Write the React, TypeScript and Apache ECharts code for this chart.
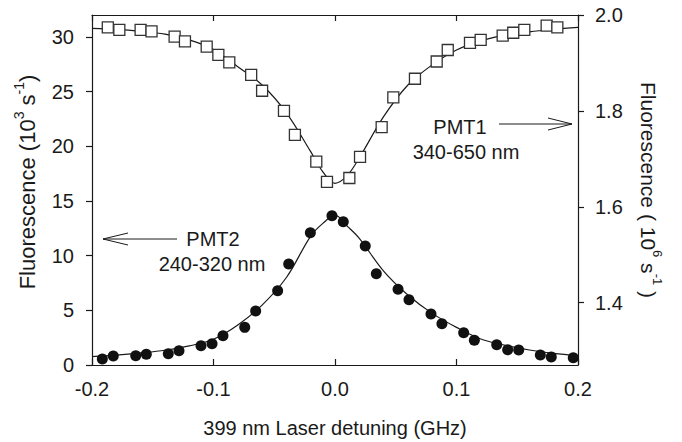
import React, { useEffect, useRef } from "react";
import * as echarts from "echarts";

// PMT1 (open squares, right axis, 10^6 s^-1)
const pmt1X = [-0.187, -0.1775, -0.16, -0.151, -0.132, -0.1235, -0.1056, -0.096, -0.087, -0.069, -0.06, -0.042, -0.033, -0.0154, -0.0066, 0.0118, 0.0206, 0.0384, 0.048, 0.0658, 0.0837, 0.0928, 0.1111, 0.1199, 0.138, 0.1467, 0.1558, 0.1742, 0.183];
const pmt1Y = [1.974, 1.969, 1.969, 1.966, 1.955, 1.945, 1.934, 1.917, 1.901, 1.875, 1.842, 1.8, 1.75, 1.694, 1.652, 1.66, 1.704, 1.766, 1.828, 1.867, 1.903, 1.927, 1.942, 1.948, 1.957, 1.963, 1.969, 1.978, 1.974];

// PMT2 (filled circles, left axis, 10^3 s^-1)
const pmt2X = [-0.1915, -0.1825, -0.164, -0.1553, -0.1372, -0.1284, -0.1103, -0.1012, -0.0922, -0.0743, -0.0653, -0.0472, -0.0381, -0.0203, -0.0025, 0.0068, 0.0249, 0.034, 0.0519, 0.0609, 0.079, 0.088, 0.1059, 0.1147, 0.1331, 0.1421, 0.1512, 0.169, 0.178, 0.1961];
const pmt2Y = [0.55, 0.82, 0.85, 0.98, 1.03, 1.31, 1.76, 1.95, 2.68, 3.44, 4.93, 6.79, 9.23, 12.09, 13.65, 13.1, 10.87, 8.34, 6.92, 5.97, 4.66, 3.77, 2.95, 2.26, 1.86, 1.4, 1.37, 0.91, 0.73, 0.67];

// Fit curves
const fitX = [-0.2, -0.18, -0.16, -0.14, -0.12, -0.1, -0.08, -0.06, -0.04, -0.02, -0.01, 0, 0.01, 0.02, 0.04, 0.06, 0.08, 0.1, 0.12, 0.14, 0.16, 0.18, 0.2];
const fit1Y = [1.972, 1.97, 1.966, 1.96, 1.948, 1.928, 1.892, 1.854, 1.796, 1.715, 1.673, 1.649, 1.665, 1.702, 1.788, 1.854, 1.896, 1.927, 1.946, 1.958, 1.965, 1.97, 1.974];
const fit2Y = [0.76, 0.9, 1.1, 1.35, 1.75, 2.35, 3.66, 5.48, 8.0, 11.79, 12.95, 13.7, 12.7, 11.58, 8.59, 6.4, 4.72, 3.44, 2.38, 1.8, 1.37, 1.07, 0.85];

const leftTicks = [0, 5, 10, 15, 20, 25, 30];
const rightTicks = [1.4, 1.6, 1.8, 2.0];

const FONT = "'Liberation Sans', Arial, Helvetica, sans-serif";
const INK = "#1a1a1a";

export default function App() {
  const ref = useRef<HTMLDivElement>(null);
  useEffect(() => {
    if (!ref.current) return;
    const chart = echarts.init(ref.current, null, { renderer: "svg" });
    const zip = (xs: number[], ys: number[]) => xs.map((x, i) => [x, ys[i]]);
    const axisLine = { show: true, onZero: false, lineStyle: { color: INK, width: 1.2 } };
    const xFmt = (v: number) => (Math.abs(v) < 1e-9 ? "0.0" : v.toFixed(1));
    const tickStyle = { color: INK, width: 1.2 };
    chart.setOption({
      animation: false,
      backgroundColor: "#fff",
      grid: { left: 92, right: 104, top: 15, bottom: 77, containLabel: false },
      xAxis: [
        {
          type: "value", position: "bottom", min: -0.2, max: 0.2, interval: 0.1,
          axisLine, splitLine: { show: false },
          axisTick: { show: true, inside: true, length: 6, lineStyle: tickStyle },
          axisLabel: { show: true, fontSize: 20, fontFamily: FONT, color: INK, margin: 14, formatter: xFmt },
        },
        {
          type: "value", position: "top", min: -0.2, max: 0.2, interval: 0.1,
          axisLine, splitLine: { show: false },
          axisTick: { show: true, inside: true, length: 6, lineStyle: tickStyle },
          axisLabel: { show: false },
        },
      ],
      yAxis: [
        {
          type: "value", position: "left", min: 0, max: 32,
          axisLine, splitLine: { show: false },
          axisTick: { show: true, inside: false, length: 6, customValues: leftTicks, lineStyle: tickStyle },
          axisLabel: { show: true, fontSize: 20, fontFamily: FONT, color: INK, margin: 18, customValues: leftTicks },
        },
        {
          type: "value", position: "right", min: 1.27, max: 2.0, alignTicks: false,
          axisLine, splitLine: { show: false },
          axisTick: { show: true, inside: false, length: 6, customValues: rightTicks, lineStyle: tickStyle },
          axisLabel: { show: true, fontSize: 20, fontFamily: FONT, color: INK, margin: 17, customValues: rightTicks, formatter: (v: number) => v.toFixed(1) },
        },
      ],
      series: [
        {
          type: "line", xAxisIndex: 0, yAxisIndex: 1, data: zip(fitX, fit1Y), smooth: 0.35,
          symbol: "none", lineStyle: { color: INK, width: 1.2 }, z: 2,
        },
        {
          type: "line", xAxisIndex: 0, yAxisIndex: 0, data: zip(fitX, fit2Y), smooth: 0.35,
          symbol: "none", lineStyle: { color: INK, width: 1.2 }, z: 2,
        },
        {
          type: "scatter", xAxisIndex: 0, yAxisIndex: 1, data: zip(pmt1X, pmt1Y),
          symbol: "rect", symbolSize: 11,
          itemStyle: { color: "#fff", borderColor: "#333", borderWidth: 1.3, opacity: 1 }, z: 3,
        },
        {
          type: "scatter", xAxisIndex: 0, yAxisIndex: 0, data: zip(pmt2X, pmt2Y),
          symbol: "circle", symbolSize: 11,
          itemStyle: { color: "#111", opacity: 1 }, z: 3,
        },
      ],
      graphic: [
        {
          type: "text", x: 25, y: 182, rotation: Math.PI / 2,
          style: {
            text: "{n|Fluorescence (10}{s|3}{n| s}{s|-1}{n|)}",
            align: "center", verticalAlign: "middle", fill: INK,
            rich: {
              n: { fontSize: 22, fontFamily: FONT, fill: INK, color: INK, verticalAlign: "bottom", lineHeight: 27 },
              s: { fontSize: 14, fontFamily: FONT, fill: INK, color: INK, verticalAlign: "top", lineHeight: 27 },
            },
          },
        },
        {
          type: "text", x: 651, y: 190, rotation: -Math.PI / 2,
          style: {
            text: "{n|Fluorescence ( 10}{s|6}{n| s}{s|-1}{n| )}",
            align: "center", verticalAlign: "middle", fill: INK,
            rich: {
              n: { fontSize: 21, fontFamily: FONT, fill: INK, color: INK, verticalAlign: "bottom", lineHeight: 26 },
              s: { fontSize: 13, fontFamily: FONT, fill: INK, color: INK, verticalAlign: "top", lineHeight: 26 },
            },
          },
        },
        {
          type: "text", x: 335, y: 428,
          style: { text: "399 nm Laser detuning (GHz)", fontSize: 20, fontFamily: FONT, fill: INK, align: "center", verticalAlign: "middle" },
        },
        {
          type: "text", x: 460, y: 127,
          style: { text: "PMT1", fontSize: 20, fontFamily: FONT, fill: INK, align: "center", verticalAlign: "middle" },
        },
        {
          type: "text", x: 466, y: 152,
          style: { text: "340-650 nm", fontSize: 20, fontFamily: FONT, fill: INK, align: "center", verticalAlign: "middle" },
        },
        { type: "line", shape: { x1: 499, y1: 124, x2: 572, y2: 124 }, style: { stroke: INK, lineWidth: 1 } },
        { type: "polyline", shape: { points: [[548, 118], [572, 124], [548, 130]] }, style: { stroke: INK, lineWidth: 1, fill: "none" } },
        {
          type: "text", x: 213, y: 239,
          style: { text: "PMT2", fontSize: 20, fontFamily: FONT, fill: INK, align: "center", verticalAlign: "middle" },
        },
        {
          type: "text", x: 212, y: 264,
          style: { text: "240-320 nm", fontSize: 20, fontFamily: FONT, fill: INK, align: "center", verticalAlign: "middle" },
        },
        { type: "line", shape: { x1: 177, y1: 239, x2: 103, y2: 239 }, style: { stroke: INK, lineWidth: 1 } },
        { type: "polyline", shape: { points: [[128, 233], [103, 239], [128, 245]] }, style: { stroke: INK, lineWidth: 1, fill: "none" } },
      ],
    });
    return () => chart.dispose();
  }, []);
  return <div ref={ref} style={{ width: 682, height: 442, position: "absolute", left: 0, top: 0 }} />;
}
